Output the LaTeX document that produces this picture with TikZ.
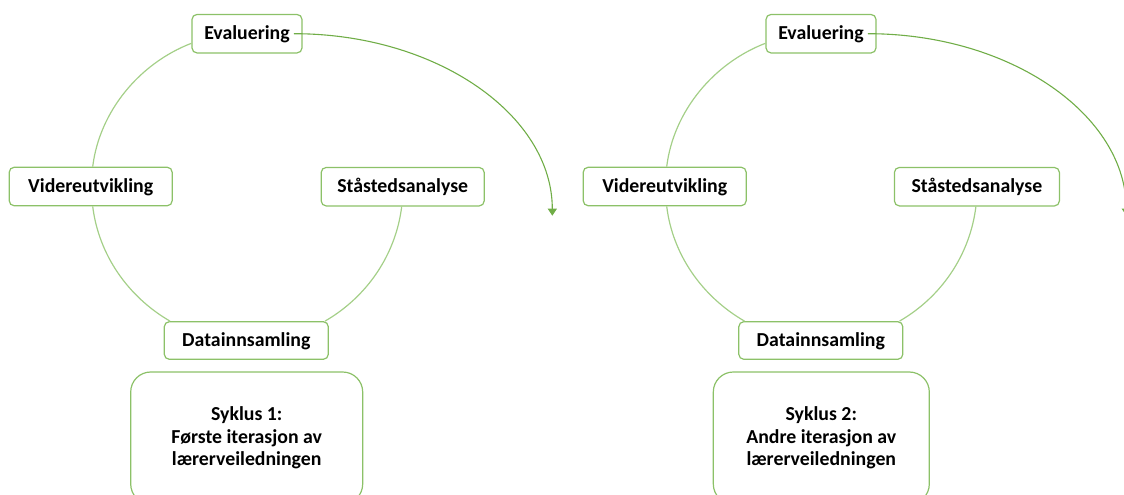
\documentclass[tikz,border=0pt]{standalone}
\usepackage{fontspec}
\setmainfont{Carlito}
\usetikzlibrary{arrows.meta}

\definecolor{boxgreen}{HTML}{8CC168}
\definecolor{ringgreen}{HTML}{A4CF88}
\definecolor{arrowgreen}{HTML}{70AD47}

\tikzset{
  stage/.style={draw=boxgreen, line width=1.2pt, rounded corners=5pt, fill=white,
    inner sep=0pt, minimum height=38.5pt, text height=11.6pt, text depth=0pt,
    font=\fontsize{19.8}{22.5}\selectfont\bfseries},
  cyclebox/.style={draw=boxgreen, line width=1.2pt, rounded corners=20pt, fill=white,
    inner sep=0pt, minimum height=132pt, align=center,
    font=\fontsize{19.8}{22.5}\selectfont\bfseries},
  ring/.style={draw=ringgreen, line width=1.2pt, looseness=0.9},
  flow/.style={draw=arrowgreen, line width=1.1pt, -{Triangle[width=9pt,length=7pt]}},
}

\begin{document}
\begin{tikzpicture}[x=1pt, y=1pt]
  \useasboundingbox (0,0) rectangle (1124,-495);
  \clip (0,0) rectangle (1124,-495);

  % ---- first cycle ----
  \node[stage, minimum width=110pt] (ev1)  at (247,-33.7)   {Evaluering};
  \node[stage, minimum width=163pt] (vid1) at (90.7,-186.5) {Videreutvikling};
  \node[stage, minimum width=163pt] (sta1) at (402.7,-186.7){Ståstedsanalyse};
  \node[stage, minimum width=164pt, minimum height=37.6pt] (dat1) at (246.3,-340.5) {Datainnsamling};
  \node[cyclebox, minimum width=232pt] (syk1) at (246.7,-438)
    {Syklus 1:\\Første iterasjon av\\lærerveiledningen};

  \draw[ring] ([yshift=-9.6pt]ev1.west) to[out=201, in=83] ([xshift=2pt]vid1.north);
  \draw[ring] ([xshift=2pt]vid1.south) to[out=277, in=150] ([xshift=-76.3pt]dat1.north);
  \draw[ring] ([xshift=78.7pt]dat1.north) to[out=30, in=263] ([xshift=-1pt]sta1.south);

  \coordinate (tip1) at (552.3,-215.7);
  \draw[flow] ([xshift=-8.7pt]ev1.east) .. controls +(143,0) and +(0,100.5) .. (tip1);

  % ---- second cycle ----
  \node[stage, minimum width=110pt] (ev2)  at (821,-33.7)   {Evaluering};
  \node[stage, minimum width=163pt] (vid2) at (664.7,-186.5){Videreutvikling};
  \node[stage, minimum width=165pt] (sta2) at (976.9,-186.7){Ståstedsanalyse};
  \node[stage, minimum width=164pt, minimum height=37.6pt] (dat2) at (820.8,-340.5) {Datainnsamling};
  \node[cyclebox, minimum width=216pt] (syk2) at (821.3,-438)
    {Syklus 2:\\Andre iterasjon av\\lærerveiledningen};

  \draw[ring] ([yshift=-9.6pt]ev2.west) to[out=201, in=83] ([xshift=2pt]vid2.north);
  \draw[ring] ([xshift=2pt]vid2.south) to[out=277, in=150] ([xshift=-76.3pt]dat2.north);
  \draw[ring] ([xshift=78.7pt]dat2.north) to[out=30, in=263] ([xshift=-1pt]sta2.south);

  \coordinate (tip2) at (1126.3,-215.7);
  \draw[flow] ([xshift=-8.7pt]ev2.east) .. controls +(143,0) and +(0,100.5) .. (tip2);
\end{tikzpicture}
\end{document}
